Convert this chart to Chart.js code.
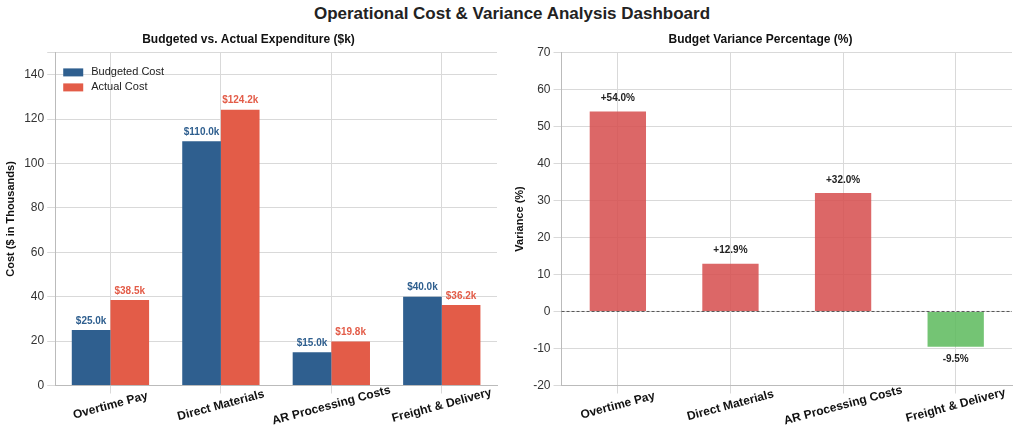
<!DOCTYPE html>
<html>
<head>
<meta charset="utf-8">
<script src="https://cdn.jsdelivr.net/npm/chart.js@4/dist/chart.umd.min.js"></script>
<style>
  body { margin: 0; background: #fff; font-family: "Liberation Sans", Arial, sans-serif; }
  #title { position: absolute; top: 4px; left: 0; width: 1024px; text-align: center; font-size: 17px; font-weight: bold; color: #222; }
  .box { position: absolute; top: 30px; height: 409px; }
</style>
</head>
<body>
<div id="title">Operational Cost &amp; Variance Analysis Dashboard</div>
<div class="box" style="left:0;width:505px"><canvas id="costChart"></canvas></div>
<div class="box" style="left:505px;width:519px"><canvas id="varChart"></canvas></div>
<script>
const categories = ['Overtime Pay', 'Direct Materials', 'AR Processing Costs', 'Freight & Delivery'];
const budgeted = [25.0, 110.0, 15.0, 40.0];
const actual = [38.5, 124.2, 19.8, 36.2];
const variance = [54.0, 12.9, 32.0, -9.5];

const BLUE = '#2f5f8f';
const RED = '#e35c48';
Chart.defaults.font.family = '"Liberation Sans", Arial, sans-serif';
Chart.defaults.color = '#333';

const gridColor = '#d9d9d9';
// real ticks kept transparent to reserve space; labels are drawn centred by the plugin below
const xTicks = { font: { size: 12, weight: 'bold' }, color: 'transparent', maxRotation: 15, minRotation: 15, padding: 0 };

const centredXLabels = {
  id: 'centredXLabels',
  afterDraw(chart) {
    const ctx = chart.ctx;
    const x = chart.scales.x;
    ctx.save();
    ctx.font = 'bold 12px "Liberation Sans", Arial, sans-serif';
    ctx.fillStyle = '#111';
    ctx.textAlign = 'center';
    ctx.textBaseline = 'middle';
    chart.data.labels.forEach((lab, i) => {
      ctx.save();
      ctx.translate(x.getPixelForValue(i), chart.chartArea.bottom + 20);
      ctx.rotate(-15 * Math.PI / 180);
      ctx.fillText(lab, 0, 0);
      ctx.restore();
    });
    ctx.restore();
  }
};

const barLabels = {
  id: 'barLabels',
  afterDatasetsDraw(chart, args, opts) {
    const ctx = chart.ctx;
    ctx.save();
    ctx.font = 'bold 10px "Liberation Sans", Arial, sans-serif';
    ctx.textAlign = 'center';
    chart.data.datasets.forEach((ds, di) => {
      chart.getDatasetMeta(di).data.forEach((bar, i) => {
        const v = ds.data[i];
        ctx.fillStyle = opts.color ? opts.color(di) : '#222';
        const text = opts.format(v);
        if (v >= 0) { ctx.textBaseline = 'bottom'; ctx.fillText(text, bar.x, bar.y - opts.gap); }
        else { ctx.textBaseline = 'top'; ctx.fillText(text, bar.x, bar.y + opts.gap); }
      });
    });
    ctx.restore();
  }
};

const innerLegend = {
  id: 'innerLegend',
  afterDraw(chart) {
    const ctx = chart.ctx;
    const a = chart.chartArea;
    ctx.save();
    ctx.font = '11px "Liberation Sans", Arial, sans-serif';
    ctx.textBaseline = 'middle';
    chart.data.datasets.forEach((ds, i) => {
      const y = a.top + 20 + i * 15;
      ctx.fillStyle = ds.backgroundColor;
      ctx.fillRect(a.left + 8, y - 4, 20, 8);
      ctx.fillStyle = '#222';
      ctx.fillText(ds.label, a.left + 36, y);
    });
    ctx.restore();
  }
};

const zeroLine = {
  id: 'zeroLine',
  afterDatasetsDraw(chart) {
    const ctx = chart.ctx;
    const a = chart.chartArea;
    const y = chart.scales.y.getPixelForValue(0);
    ctx.save();
    ctx.strokeStyle = '#333';
    ctx.lineWidth = 0.8;
    ctx.setLineDash([3, 2]);
    ctx.beginPath(); ctx.moveTo(a.left, y); ctx.lineTo(a.right, y); ctx.stroke();
    ctx.restore();
  }
};

const titleOpts = (t) => ({ display: true, text: t, font: { size: 12, weight: 'bold' }, color: '#111', padding: { top: 2, bottom: 6 } });

new Chart(document.getElementById('costChart'), {
  type: 'bar',
  data: {
    labels: categories,
    datasets: [
      { label: 'Budgeted Cost', data: budgeted, backgroundColor: BLUE },
      { label: 'Actual Cost', data: actual, backgroundColor: RED }
    ]
  },
  options: {
    responsive: true, maintainAspectRatio: false, animation: false,
    layout: { padding: { left: 0, right: 8, bottom: 0 } },
    datasets: { bar: { categoryPercentage: 0.7, barPercentage: 1.0 } },
    scales: {
      x: { grid: { color: gridColor, offset: false }, ticks: xTicks, border: { color: '#bbb' } },
      y: { min: 0, max: 150, ticks: { stepSize: 20, font: { size: 12 }, color: '#333',
             callback: v => v <= 140 ? v : '' },
           grid: { color: gridColor }, border: { color: '#bbb' },
           title: { display: true, text: 'Cost ($ in Thousands)', font: { size: 11, weight: 'bold' }, color: '#111' } }
    },
    plugins: {
      legend: { display: false },
      tooltip: { enabled: false },
      title: titleOpts('Budgeted vs. Actual Expenditure ($k)'),
      barLabels: { gap: 4, format: v => '$' + v.toFixed(1) + 'k', color: di => di === 0 ? BLUE : RED }
    }
  },
  plugins: [barLabels, innerLegend, centredXLabels]
});

new Chart(document.getElementById('varChart'), {
  type: 'bar',
  data: {
    labels: categories,
    datasets: [{
      label: 'Variance', data: variance,
      backgroundColor: variance.map(v => v >= 0 ? 'rgba(214,76,76,0.85)' : 'rgba(92,186,92,0.85)')
    }]
  },
  options: {
    responsive: true, maintainAspectRatio: false, animation: false,
    layout: { padding: { left: 4, right: 12, bottom: 0 } },
    datasets: { bar: { categoryPercentage: 1.0, barPercentage: 0.5 } },
    scales: {
      x: { grid: { color: gridColor, offset: false }, ticks: xTicks, border: { color: '#bbb' } },
      y: { min: -20, max: 70, ticks: { stepSize: 10, font: { size: 12 }, color: '#333' },
           grid: { color: gridColor }, border: { color: '#bbb' },
           title: { display: true, text: 'Variance (%)', font: { size: 11, weight: 'bold' }, color: '#111' } }
    },
    plugins: {
      legend: { display: false },
      tooltip: { enabled: false },
      title: titleOpts('Budget Variance Percentage (%)'),
      barLabels: { gap: 8, format: v => (v >= 0 ? '+' : '') + v.toFixed(1) + '%' }
    }
  },
  plugins: [barLabels, zeroLine, centredXLabels]
});
</script>
</body>
</html>
